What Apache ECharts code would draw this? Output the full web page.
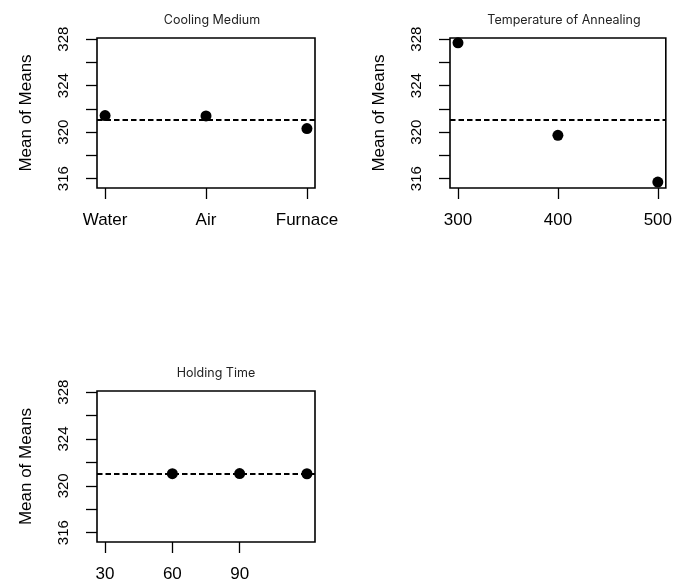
<!DOCTYPE html>
<html>
<head>
<meta charset="utf-8">
<script src="https://cdn.jsdelivr.net/npm/echarts@6/dist/echarts.min.js"></script>
<style>html,body{margin:0;padding:0;background:#fff}#c{width:675px;height:587px}</style>
</head>
<body>
<div id="c"></div>
<script>
// Data
const coolingCategories = ['Water', 'Air', 'Furnace'];
const coolingMeans = [321.43, 321.40, 320.31];
const tempLevels = [300, 400, 500];
const tempMeans = [327.69, 319.73, 315.71];
const holdLevels = [60, 90, 120];
const holdMeans = [321.04, 321.05, 321.03];
const grandMean = 321.04;
const yTicks = [316, 318, 320, 322, 324, 326, 328];
const yLabels = [316, 320, 324, 328];
const tempTicks = [300, 400, 500];
const holdTicks = [30, 60, 90];
const panelTitles = ['Cooling Medium', 'Temperature of Annealing', 'Holding Time'];
const yTitle = 'Mean of Means';

const chart = echarts.init(document.getElementById('c'));
const FONT = 'Liberation Sans';

const grids = [
  {left: 97, top: 38, width: 218, height: 150},
  {left: 450, top: 38, width: 218, height: 150},
  {left: 97, top: 391, width: 218, height: 151}
];

function yAxis(i) {
  return {
    type: 'value', gridIndex: i, min: 315.2, max: 328.1,
    axisLine: {show: false},
    splitLine: {show: false},
    axisTick: {show: true, length: 11, customValues: yTicks, lineStyle: {color: '#000', width: 1.3}},
    axisLabel: {show: true, customValues: yLabels, rotate: 90, margin: 26, color: '#000', fontSize: 15, fontFamily: FONT},
    name: yTitle, nameLocation: 'middle', nameGap: 62, nameRotate: 90,
    nameTextStyle: {color: '#000', fontSize: 17, fontFamily: FONT}
  };
}
function xAxis(i, min, max, ticks, fmt) {
  return {
    type: 'value', gridIndex: i, min: min, max: max,
    axisLine: {show: false},
    splitLine: {show: false},
    axisTick: {show: true, length: 11, customValues: ticks, lineStyle: {color: '#000', width: 1.3}},
    axisLabel: {show: true, customValues: ticks, margin: 24, color: '#000', fontSize: 17, fontFamily: FONT,
      formatter: fmt || (v => String(v))}
  };
}

function series(i, data) {
  return {
    type: 'scatter', xAxisIndex: i, yAxisIndex: i, data: data,
    symbolSize: 11, itemStyle: {color: '#000', opacity: 1},
    markLine: {
      silent: true, symbol: 'none', label: {show: false},
      lineStyle: {color: '#000', type: [5.5, 3], width: 2, opacity: 1},
      data: [{yAxis: grandMean}]
    },
    z: 5
  };
}

const option = {
  animation: false,
  backgroundColor: '#fff',
  title: [
    {text: panelTitles[0], left: 207, top: 9, textAlign: 'center'},
    {text: panelTitles[1], left: 559, top: 9, textAlign: 'center'},
    {text: panelTitles[2], left: 211, top: 362, textAlign: 'center'}
  ].map(t => Object.assign(t, {textStyle: {color: '#222', fontSize: 12.5, fontWeight: 'normal', fontFamily: 'Inter'}})),
  grid: grids.map(g => Object.assign({show: true, borderColor: '#000', borderWidth: 1.6, backgroundColor: 'transparent'}, g)),
  xAxis: [
    xAxis(0, 0.92, 3.08, [1, 2, 3], v => coolingCategories[Math.round(v) - 1]),
    xAxis(1, 292, 508, tempTicks),
    xAxis(2, 26.4, 123.6, holdTicks)
  ],
  yAxis: [yAxis(0), yAxis(1), yAxis(2)],
  series: [
    series(0, coolingMeans.map((v, k) => [k + 1, v])),
    series(1, tempMeans.map((v, k) => [tempLevels[k], v])),
    series(2, holdMeans.map((v, k) => [holdLevels[k], v]))
  ]
};
chart.setOption(option);
</script>
</body>
</html>
